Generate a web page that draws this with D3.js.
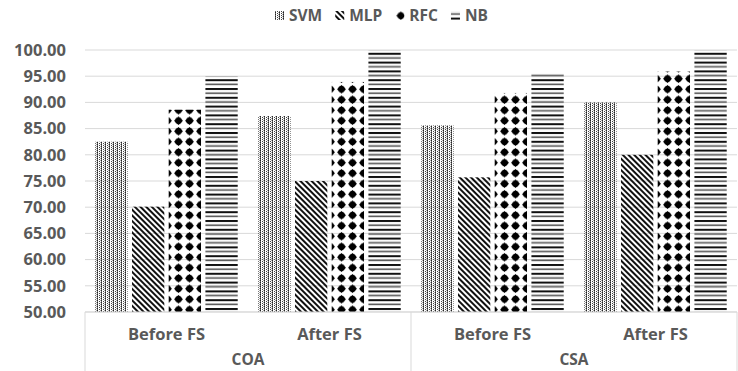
<!DOCTYPE html>
<html>
<head>
<meta charset="utf-8">
<script src="https://cdn.jsdelivr.net/npm/d3@7"></script>
<style>
  body { margin: 0; background: #fff; }
  text { font-family: "Open Sans", sans-serif; font-weight: bold; fill: #595959; }
</style>
</head>
<body>
<svg id="drawing_region"></svg>
<script>
const groups = ['COA', 'CSA'];
const stages = ['Before FS', 'After FS'];
const series = ['SVM', 'MLP', 'RFC', 'NB'];
const svm = [82.5, 87.4, 85.6, 90.0];
const mlp = [70.1, 75.0, 75.7, 80.0];
const rfc = [88.6, 93.9, 91.8, 95.9];
const nb = [95.0, 100.0, 95.6, 100.0];
const yTicks = [50, 55, 60, 65, 70, 75, 80, 85, 90, 95, 100];

const values = { SVM: svm, MLP: mlp, RFC: rfc, NB: nb };

// one row per (group, stage)
const rows = [];
groups.forEach((g, gi) => stages.forEach((s, si) => {
    rows.push({ group: g, stage: s, idx: gi * stages.length + si });
}));

const width = 738, height = 371;
const margin = { top: 50, right: 1, bottom: 59, left: 85 };

const svg = d3.select('#drawing_region')
    .attr('width', width)
    .attr('height', height);

// ---- patterns ----
const defs = svg.append('defs');

let p = defs.append('pattern').attr('id', 'pat-SVM')
    .attr('patternUnits', 'userSpaceOnUse').attr('width', 4).attr('height', 2);
p.append('rect').attr('x', 0).attr('y', 0).attr('width', 1).attr('height', 1).attr('fill', '#222');
p.append('rect').attr('x', 0).attr('y', 1).attr('width', 1).attr('height', 1).attr('fill', '#666');
p.append('rect').attr('x', 2).attr('y', 1).attr('width', 1).attr('height', 1).attr('fill', '#444');
p.append('rect').attr('x', 3).attr('y', 0).attr('width', 1).attr('height', 1).attr('fill', '#aaa');

p = defs.append('pattern').attr('id', 'pat-MLP')
    .attr('patternUnits', 'userSpaceOnUse').attr('width', 4).attr('height', 4)
    .attr('patternTransform', 'rotate(-45)');
p.append('rect').attr('x', 0).attr('y', 0).attr('width', 2).attr('height', 4).attr('fill', '#111');

p = defs.append('pattern').attr('id', 'pat-RFC')
    .attr('patternUnits', 'userSpaceOnUse').attr('width', 11).attr('height', 10.5);
p.append('path').attr('d', 'M5.5,1 L10,5.25 L5.5,9.5 L1,5.25 Z').attr('fill', '#000');
p.append('circle').attr('cx', 5.5).attr('cy', 5.25).attr('r', 3.3).attr('fill', '#000');

p = defs.append('pattern').attr('id', 'pat-NB')
    .attr('patternUnits', 'userSpaceOnUse').attr('width', 4).attr('height', 8.8);
p.append('rect').attr('x', 0).attr('y', 0).attr('width', 4).attr('height', 2).attr('fill', '#111');
p.append('rect').attr('x', 0).attr('y', 4.4).attr('width', 4).attr('height', 1.6).attr('fill', '#555');

// ---- scales ----
const x0 = d3.scaleBand()
    .domain(rows.map(d => d.idx))
    .range([margin.left, width - margin.right])
    .padding(0);

const x1 = d3.scaleBand()
    .domain(series)
    .range([0, x0.bandwidth()])
    .paddingInner(0.12)
    .paddingOuter(0.28);

const y = d3.scaleLinear()
    .domain([50, 100])
    .range([height - margin.bottom, margin.top]);

// ---- gridlines ----
svg.append('g')
    .selectAll('line')
    .data(yTicks)
    .join('line')
    .attr('x1', margin.left)
    .attr('x2', width - margin.right)
    .attr('y1', d => y(d))
    .attr('y2', d => y(d))
    .attr('stroke', '#d9d9d9')
    .attr('stroke-width', 1);

// y labels
svg.append('g')
    .selectAll('text')
    .data(yTicks)
    .join('text')
    .attr('x', 66)
    .attr('y', d => y(d))
    .attr('dy', '0.35em')
    .attr('text-anchor', 'end')
    .attr('font-size', '16.5px')
    .text(d => d.toFixed(2));

// ---- bars ----
const chart = svg.append('g');
rows.forEach(r => {
    chart.append('g')
        .attr('transform', `translate(${x0(r.idx)},0)`)
        .selectAll('rect')
        .data(series)
        .join('rect')
        .attr('x', s => x1(s))
        .attr('width', x1.bandwidth())
        .attr('y', s => y(values[s][r.idx]))
        .attr('height', s => y(50) - y(values[s][r.idx]))
        .attr('fill', s => `url(#pat-${s})`);
});

// ---- category axis ----
const axisG = svg.append('g');
const yBase = y(50);
axisG.append('line')
    .attr('x1', margin.left).attr('x2', width - margin.right)
    .attr('y1', yBase).attr('y2', yBase)
    .attr('stroke', '#d9d9d9');

const groupEdges = [margin.left];
groups.forEach((g, gi) => groupEdges.push(x0((gi + 1) * stages.length - 1) + x0.bandwidth()));
axisG.selectAll('line.div')
    .data(groupEdges)
    .join('line')
    .attr('class', 'div')
    .attr('x1', d => d).attr('x2', d => d)
    .attr('y1', yBase).attr('y2', height)
    .attr('stroke', '#d9d9d9');

axisG.selectAll('text.stage')
    .data(rows)
    .join('text')
    .attr('class', 'stage')
    .attr('x', d => x0(d.idx) + x0.bandwidth() / 2)
    .attr('y', 340)
    .attr('text-anchor', 'middle')
    .attr('font-size', '16.5px')
    .text(d => d.stage);

axisG.selectAll('text.group')
    .data(groups)
    .join('text')
    .attr('class', 'group')
    .attr('x', (d, i) => x0(i * stages.length) + x0.bandwidth())
    .attr('y', 365)
    .attr('text-anchor', 'middle')
    .attr('font-size', '15.5px')
    .text(d => d);

// ---- legend ----
const legend = svg.append('g');
let lx = 275;
series.forEach(s => {
    const item = legend.append('g').attr('transform', `translate(${lx},0)`);
    item.append('rect')
        .attr('x', 0).attr('y', 11)
        .attr('width', 9).attr('height', 9)
        .attr('fill', `url(#pat-${s})`);
    const t = item.append('text')
        .attr('x', 14).attr('y', 16)
        .attr('dy', '0.35em')
        .attr('font-size', '15.5px')
        .text(s);
    lx += 14 + t.node().getComputedTextLength() + 13;
});
</script>
</body>
</html>
